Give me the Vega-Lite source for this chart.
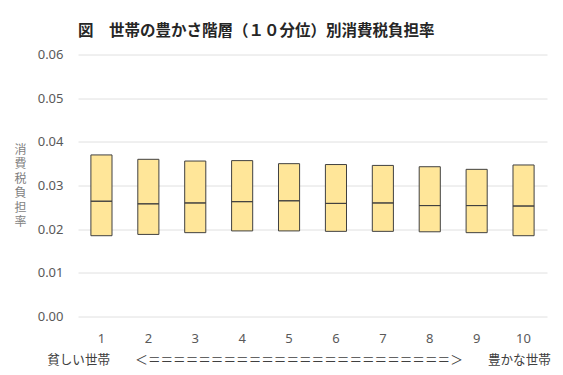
{
  "$schema": "https://vega.github.io/schema/vega-lite/v6.json",
  "autosize": "none",
  "width": 469,
  "height": 262,
  "padding": {"left": 78, "top": 54.5, "right": 16, "bottom": 58.5},
  "background": "white",
  "title": {
    "text": "図　世帯の豊かさ階層（１０分位）別消費税負担率",
    "anchor": "start",
    "frame": "group",
    "font": "Noto Sans CJK JP",
    "fontSize": 15.5,
    "fontWeight": "bold",
    "color": "#262626",
    "offset": 9
  },
  "data": {
    "values": [
      {"decile": 1, "low": 0.0185, "median": 0.0264, "high": 0.0370},
      {"decile": 2, "low": 0.0188, "median": 0.0258, "high": 0.0360},
      {"decile": 3, "low": 0.0192, "median": 0.0260, "high": 0.0356},
      {"decile": 4, "low": 0.0196, "median": 0.0263, "high": 0.0357},
      {"decile": 5, "low": 0.0196, "median": 0.0265, "high": 0.0350},
      {"decile": 6, "low": 0.0195, "median": 0.0259, "high": 0.0348},
      {"decile": 7, "low": 0.0195, "median": 0.0260, "high": 0.0346},
      {"decile": 8, "low": 0.0194, "median": 0.0254, "high": 0.0343},
      {"decile": 9, "low": 0.0192, "median": 0.0254, "high": 0.0337},
      {"decile": 10, "low": 0.0185, "median": 0.0253, "high": 0.0347}
    ]
  },
  "encoding": {
    "x": {
      "field": "decile",
      "type": "ordinal",
      "scale": {"paddingInner": 0.55, "paddingOuter": 0.275},
      "axis": {
        "title": "貧しい世帯　　＜＝＝＝＝＝＝＝＝＝＝＝＝＝＝＝＝＝＝＝＝＝＝＝＝＞　　豊かな世帯",
        "titleFont": "Noto Sans CJK JP",
        "titleFontSize": 12.6,
        "titleFontWeight": "normal",
        "titleColor": "#404040",
        "titleX": 220.5,
        "titleY": 43,
        "titleAlign": "center",
        "titleBaseline": "middle",
        "labelAngle": 0,
        "labelFont": "Noto Sans",
        "labelFontSize": 13,
        "labelColor": "#595959",
        "labelPadding": 16,
        "domain": false,
        "ticks": false,
        "grid": false
      }
    }
  },
  "layer": [
    {
      "mark": {"type": "bar", "fill": "#FFE699", "stroke": "#404040", "strokeWidth": 1},
      "encoding": {
        "y": {
          "field": "low",
          "type": "quantitative",
          "scale": {"domain": [0, 0.06], "nice": false},
          "axis": {
            "values": [0, 0.01, 0.02, 0.03, 0.04, 0.05, 0.06],
            "format": ".2f",
            "title": ["消", "費", "税", "負", "担", "率"],
            "titleFont": "Noto Sans CJK JP",
            "titleFontSize": 12,
            "titleFontWeight": "normal",
            "titleColor": "#7f7f7f",
            "titleAngle": 0,
            "titleLineHeight": 14.5,
            "titleAlign": "center",
            "titleBaseline": "middle",
            "titleX": -58,
            "titleY": 94.5,
            "labelFont": "Noto Sans",
            "labelFontSize": 13,
            "labelColor": "#595959",
            "labelPadding": 15,
            "domain": false,
            "ticks": false,
            "gridColor": "#e0e0e0",
            "gridWidth": 1
          }
        },
        "y2": {"field": "high"}
      }
    },
    {
      "mark": {"type": "bar", "fill": "#FFE699", "stroke": "#404040", "strokeWidth": 1},
      "encoding": {
        "y": {"field": "median", "type": "quantitative"},
        "y2": {"field": "median"}
      }
    }
  ],
  "config": {
    "view": {"stroke": null}
  }
}
